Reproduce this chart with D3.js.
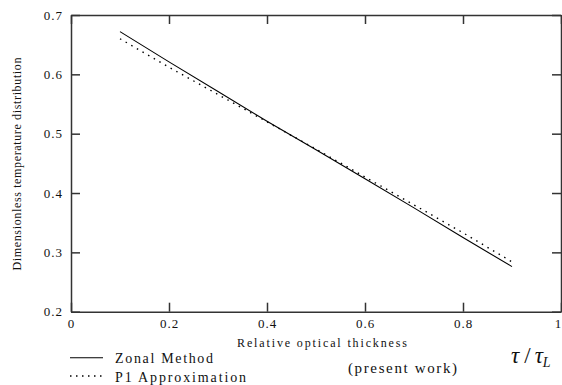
<!DOCTYPE html>
<html>
<head>
<meta charset="utf-8">
<script src="https://cdn.jsdelivr.net/npm/d3@7/dist/d3.min.js"></script>
<style>
  html, body { margin: 0; padding: 0; background: #fff; }
</style>
</head>
<body>
<svg id="chart" width="562" height="385"></svg>
<script>
// Relative optical thickness (tau / tau_L)
const tau = [0.1, 0.2, 0.3, 0.4, 0.5, 0.6, 0.7, 0.8, 0.9];
// Dimensionless temperature distribution
const zonal = [0.672, 0.621, 0.571, 0.521, 0.473, 0.424, 0.375, 0.325, 0.276];
const p1 = [0.660, 0.612, 0.566, 0.520, 0.474, 0.427, 0.380, 0.333, 0.284];

const xTicks = [0, 0.2, 0.4, 0.6, 0.8, 1];
const yTicks = [0.2, 0.3, 0.4, 0.5, 0.6, 0.7];
const xTickLabels = ["0", "0.2", "0.4", "0.6", "0.8", "1"];
const yTickLabels = ["0.2", "0.3", "0.4", "0.5", "0.6", "0.7"];

const serif = "'Liberation Serif', 'Times New Roman', 'DejaVu Serif', serif";
const ink = "#111";

const svg = d3.select("#chart");
const plotLeft = 71, plotRight = 561, plotTop = 15, plotBottom = 311.7;

const x = d3.scaleLinear().domain([0, 1]).range([plotLeft, plotRight]);
const y = d3.scaleLinear().domain([0.2, 0.7]).range([plotBottom, plotTop]);

const axisColor = "#333";
const tickLen = 9;

// frame with inward ticks on all four sides
function styleAxis(g) {
  g.attr("font-family", serif);
  g.select(".domain").attr("stroke", axisColor).attr("stroke-width", 1.5);
  g.selectAll(".tick line").attr("stroke", axisColor).attr("stroke-width", 1.5);
  g.selectAll(".tick text")
    .style("font-family", serif)
    .style("font-size", "13px")
    .style("letter-spacing", "1px")
    .attr("fill", ink);
}

svg.append("g")
  .attr("transform", `translate(0,${plotBottom})`)
  .call(d3.axisBottom(x).tickValues(xTicks).tickSizeInner(-tickLen).tickSizeOuter(0)
        .tickFormat((d, i) => xTickLabels[i]).tickPadding(7))
  .call(styleAxis)
  // keep the last label inside the page
  .call(g => g.selectAll(".tick text").filter(d => d === 1).attr("dx", -3));

svg.append("g")
  .attr("transform", `translate(0,${plotTop})`)
  .call(d3.axisTop(x).tickValues(xTicks).tickSizeInner(-tickLen).tickSizeOuter(0).tickFormat(""))
  .call(styleAxis);

svg.append("g")
  .attr("transform", `translate(${plotLeft},0)`)
  .call(d3.axisLeft(y).tickValues(yTicks).tickSizeInner(-tickLen).tickSizeOuter(0)
        .tickFormat((d, i) => yTickLabels[i]).tickPadding(8))
  .call(styleAxis);

svg.append("g")
  .attr("transform", `translate(${plotRight},0)`)
  .call(d3.axisRight(y).tickValues(yTicks).tickSizeInner(-tickLen).tickSizeOuter(0).tickFormat(""))
  .call(styleAxis);

// curves
const line = d3.line().x(d => x(d[0])).y(d => y(d[1]));

svg.append("path")
  .datum(tau.map((t, i) => [t, zonal[i]]))
  .attr("d", line)
  .attr("fill", "none").attr("stroke", "#000").attr("stroke-width", 1.1);

svg.append("path")
  .datum(tau.map((t, i) => [t, p1[i]]))
  .attr("d", line)
  .attr("fill", "none").attr("stroke", "#000").attr("stroke-width", 1.4)
  .attr("stroke-dasharray", "1.5,5");

function label(sel, size) {
  return sel.style("font-family", serif).style("font-size", size).attr("fill", ink);
}

// axis titles
svg.append("text")
  .attr("transform", "translate(21,164) rotate(-90)")
  .attr("text-anchor", "middle")
  .attr("textLength", 213).attr("lengthAdjust", "spacing")
  .call(label, "12px")
  .text("Dimensionless temperature distribution");

svg.append("text")
  .attr("x", 237).attr("y", 347)
  .attr("textLength", 170).attr("lengthAdjust", "spacing")
  .call(label, "12px")
  .text("Relative optical thickness");

// legend
svg.append("line")
  .attr("x1", 70).attr("x2", 103).attr("y1", 357.7).attr("y2", 357.7)
  .attr("stroke", "#000").attr("stroke-width", 1.1);
svg.append("text")
  .attr("x", 115).attr("y", 363)
  .attr("textLength", 98).attr("lengthAdjust", "spacing")
  .call(label, "14px")
  .text("Zonal Method");

svg.append("line")
  .attr("x1", 70).attr("x2", 103).attr("y1", 376).attr("y2", 376)
  .attr("stroke", "#000").attr("stroke-width", 1.3)
  .attr("stroke-dasharray", "1.5,4.5");
svg.append("text")
  .attr("x", 115).attr("y", 382)
  .attr("textLength", 131).attr("lengthAdjust", "spacing")
  .call(label, "14px")
  .text("P1 Approximation");

svg.append("text")
  .attr("x", 348).attr("y", 373)
  .attr("textLength", 109).attr("lengthAdjust", "spacing")
  .call(label, "15px")
  .text("(present work)");

const sym = svg.append("text")
  .attr("x", 511).attr("y", 363)
  .call(label, "23px")
  .style("font-style", "italic");
sym.append("tspan").text("τ");
sym.append("tspan").attr("dx", 5).style("font-style", "normal").text("/");
sym.append("tspan").attr("dx", 4).text("τ");
sym.append("tspan").attr("dy", 4).style("font-size", "14px").text("L");
</script>
</body>
</html>
